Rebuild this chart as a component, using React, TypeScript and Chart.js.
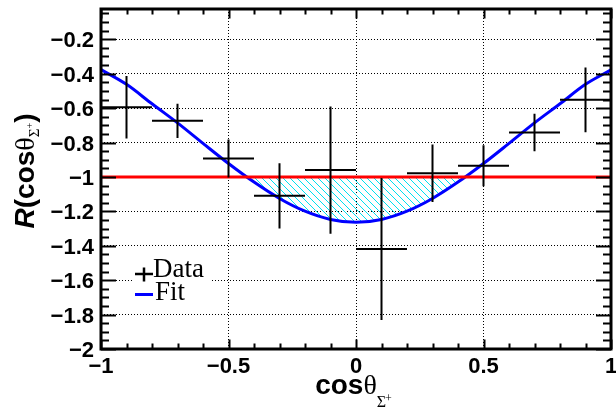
import React, { useEffect, useRef } from 'react';
import { Chart, registerables } from 'chart.js';

Chart.register(...registerables);

// ---- data ----
const binCenters = [-0.9, -0.7, -0.5, -0.3, -0.1, 0.1, 0.3, 0.5, 0.7, 0.9];
const binHalfWidths = [0.1, 0.1, 0.1, 0.1, 0.1, 0.1, 0.1, 0.1, 0.1, 0.1];
const rValues = [-0.595, -0.674, -0.893, -1.11, -0.96, -1.419, -0.978, -0.935, -0.742, -0.552];
const rErrors = [0.181, 0.099, 0.111, 0.189, 0.37, 0.413, 0.167, 0.119, 0.109, 0.188];

const fitX = [-1, -0.9, -0.8, -0.7, -0.6, -0.5, -0.4, -0.3, -0.2, -0.1, 0, 0.1, 0.2, 0.3, 0.4, 0.5, 0.6, 0.7, 0.8, 0.9, 1];
const fitY = [-0.376, -0.462, -0.575, -0.686, -0.805, -0.922, -1.03, -1.125, -1.199, -1.247, -1.264, -1.247, -1.199, -1.125, -1.03, -0.922, -0.805, -0.686, -0.575, -0.462, -0.378];

const refLineX = [-1, 1];
const refLineY = [-1, -1];

const xRange = [-1, 1];
const yRange = [-2, -0.024];
const xMajorTicks = [-1, -0.5, 0, 0.5, 1];
const yMajorTicks = [-2, -1.8, -1.6, -1.4, -1.2, -1, -0.8, -0.6, -0.4, -0.2];
const xMinorStep = 0.1;
const yMinorStep = 0.05;
const legendLabels = ['Data', 'Fit'];

const SANS = '"Liberation Sans", Arial, Helvetica, sans-serif';
const SERIF = '"Liberation Serif", "Times New Roman", serif';

function fmt(v: number): string {
  if (Math.abs(v) < 1e-9) return '0';
  const s = String(Math.round(Math.abs(v) * 1000) / 1000);
  return (v < 0 ? '\u2212' : '') + s;
}

function minorValues(min: number, max: number, step: number): number[] {
  const out: number[] = [];
  const start = Math.ceil(min / step - 1e-9);
  for (let i = start; i * step <= max + 1e-9; i++) out.push(i * step);
  return out;
}

const decorPlugin = {
  id: 'rootDecor',
  beforeDatasetsDraw(chart: any) {
    const ctx = chart.ctx;
    ctx.save();
    ctx.fillStyle = '#ffffff';
    ctx.fillRect(133, 257, 77, 53);
    ctx.restore();
  },
  afterDatasetsDraw(chart: any) {
    const ctx = chart.ctx;
    const { left, right, top, bottom } = chart.chartArea;
    const xs = chart.scales.x;
    const ys = chart.scales.y;
    ctx.save();
    // ticks
    ctx.strokeStyle = '#000';
    ctx.lineWidth = 2;
    ctx.beginPath();
    const yMinor = minorValues(yRange[0], yRange[1], yMinorStep);
    yMinor.forEach((v) => {
      const isMajor = yMajorTicks.some((m) => Math.abs(m - v) < 1e-6);
      const len = isMajor ? 15 : 8;
      const py = Math.round(ys.getPixelForValue(v)) + 0.5;
      ctx.moveTo(left, py); ctx.lineTo(left + len, py);
      ctx.moveTo(right, py); ctx.lineTo(right - len, py);
    });
    const xMinor = minorValues(xRange[0], xRange[1], xMinorStep);
    xMinor.forEach((v) => {
      const isMajor = xMajorTicks.some((m) => Math.abs(m - v) < 1e-6);
      const len = isMajor ? 9.5 : 5.5;
      const px = Math.round(xs.getPixelForValue(v)) + 0.5;
      ctx.moveTo(px, bottom); ctx.lineTo(px, bottom - len);
      ctx.moveTo(px, top); ctx.lineTo(px, top + len);
    });
    ctx.stroke();
    // frame
    ctx.lineWidth = 3;
    ctx.strokeRect(left, top, right - left, bottom - top);

    // tick labels
    ctx.fillStyle = '#000';
    ctx.font = `bold 22px ${SANS}`;
    ctx.textAlign = 'right';
    ctx.textBaseline = 'alphabetic';
    yMajorTicks.forEach((v) => {
      const py = ys.getPixelForValue(v);
      ctx.fillText(fmt(v), left - 7, py + 8);
    });
    ctx.textAlign = 'center';
    xMajorTicks.forEach((v) => {
      const px = xs.getPixelForValue(v);
      ctx.fillText(fmt(v), px, bottom + 24);
    });

    // x title: cosθ_{Σ+}
    {
      ctx.textAlign = 'left';
      ctx.font = `bold 28px ${SANS}`;
      const w1 = ctx.measureText('cos').width;
      ctx.font = `28px ${SERIF}`;
      const w2 = ctx.measureText('\u03B8').width;
      ctx.font = `16px ${SERIF}`;
      const w3 = ctx.measureText('\u03A3').width;
      ctx.font = `12px ${SERIF}`;
      const w4 = ctx.measureText('+').width;
      const total = w1 + w2 + w3 + w4;
      let x = 354 - total / 2;
      const by = 394;
      ctx.font = `bold 28px ${SANS}`;
      ctx.fillText('cos', x, by); x += w1;
      ctx.font = `28px ${SERIF}`;
      ctx.fillText('\u03B8', x, by); x += w2;
      ctx.font = `16px ${SERIF}`;
      ctx.fillText('\u03A3', x, by + 13); x += w3;
      ctx.font = `12px ${SERIF}`;
      ctx.fillText('+', x - 1, by + 8);
    }
    // y title: R(cosθ_{Σ+})
    {
      ctx.save();
      ctx.translate(34, 171);
      ctx.rotate(-Math.PI / 2);
      ctx.textAlign = 'left';
      ctx.font = `italic bold 28px ${SANS}`;
      const wR = ctx.measureText('R').width;
      ctx.font = `bold 28px ${SANS}`;
      const wP = ctx.measureText('(').width;
      const wC = ctx.measureText('cos').width;
      const wQ = ctx.measureText(')').width;
      ctx.font = `28px ${SERIF}`;
      const wT = ctx.measureText('\u03B8').width;
      ctx.font = `15px ${SERIF}`;
      const wS = ctx.measureText('\u03A3').width;
      ctx.font = `10px ${SERIF}`;
      const wPl = ctx.measureText('+').width;
      const total = wR + wP + wC + wT + wS + wPl + wQ;
      let x = -total / 2;
      ctx.font = `italic bold 28px ${SANS}`;
      ctx.fillText('R', x, 0); x += wR;
      ctx.font = `bold 28px ${SANS}`;
      ctx.fillText('(', x, 0); x += wP;
      ctx.fillText('cos', x, 0); x += wC;
      ctx.font = `28px ${SERIF}`;
      ctx.fillText('\u03B8', x, 0); x += wT;
      ctx.font = `15px ${SERIF}`;
      ctx.fillText('\u03A3', x, 5); x += wS;
      ctx.font = `10px ${SERIF}`;
      ctx.fillText('+', x, -1); x += wPl;
      ctx.font = `bold 28px ${SANS}`;
      ctx.fillText(')', x, 0);
      ctx.restore();
    }

    // legend
    ctx.strokeStyle = '#000';
    ctx.lineWidth = 2.5;
    ctx.beginPath();
    ctx.moveTo(135, 274); ctx.lineTo(153, 274);
    ctx.moveTo(144, 267.5); ctx.lineTo(144, 281.5);
    ctx.stroke();
    ctx.strokeStyle = '#0000ff';
    ctx.lineWidth = 3;
    ctx.beginPath();
    ctx.moveTo(135, 294.5); ctx.lineTo(153, 294.5);
    ctx.stroke();
    ctx.fillStyle = '#000';
    ctx.font = `27px ${SERIF}`;
    ctx.textAlign = 'left';
    ctx.fillText(legendLabels[0], 153, 277);
    ctx.fillText(legendLabels[1], 155, 300);
    ctx.restore();
  },
};

export default function App() {
  const ref = useRef<HTMLCanvasElement>(null);
  useEffect(() => {
    const canvas = ref.current;
    if (!canvas) return;
    const ctx = canvas.getContext('2d')!;

    // hatch pattern
    const pc = document.createElement('canvas');
    pc.width = 7; pc.height = 7;
    const p = pc.getContext('2d')!;
    p.strokeStyle = '#00e0f0';
    p.lineWidth = 1;
    p.beginPath();
    p.moveTo(-1, -1); p.lineTo(8, 8);
    p.moveTo(-1, 6); p.lineTo(1, 8);
    p.moveTo(6, -1); p.lineTo(8, 1);
    p.stroke();
    const pattern = ctx.createPattern(pc, 'repeat');

    const errData: { x: number; y: number | null }[] = [];
    binCenters.forEach((x, i) => {
      const y = rValues[i];
      const ex = binHalfWidths[i];
      const ey = rErrors[i];
      errData.push({ x: x - ex, y }, { x: x + ex, y }, { x, y: null });
      errData.push({ x, y: y + ey }, { x, y: y - ey }, { x, y: null });
    });

    const chart = new Chart(ctx, {
      type: 'line',
      data: {
        datasets: [
          {
            label: 'Data',
            data: errData as any,
            borderColor: '#000000',
            borderWidth: 2,
            pointRadius: 0,
            spanGaps: false,
            fill: false,
            order: 0,
          },
          {
            label: 'ref',
            data: refLineX.map((x, i) => ({ x, y: refLineY[i] })),
            borderColor: '#ff0000',
            borderWidth: 3,
            pointRadius: 0,
            fill: false,
            order: 1,
          },
          {
            label: 'Fit',
            data: fitX.map((x, i) => ({ x, y: fitY[i] })),
            borderColor: '#0000ff',
            borderWidth: 3,
            pointRadius: 0,
            cubicInterpolationMode: 'monotone',
            fill: { target: { value: -1 }, above: 'rgba(0,0,0,0)', below: pattern as any },
            order: 2,
          },
        ],
      },
      options: {
        animation: false,
        responsive: false,
        devicePixelRatio: 1,
        events: [],
        layout: { padding: { top: 9, right: 5, left: 0, bottom: 0 } },
        plugins: { legend: { display: false }, tooltip: { enabled: false }, title: { display: false } },
        scales: {
          x: {
            type: 'linear',
            min: xRange[0],
            max: xRange[1],
            afterBuildTicks: (s: any) => { s.ticks = xMajorTicks.map((v) => ({ value: v })); },
            afterFit: (s: any) => { s.height = 62; },
            ticks: { display: false },
            grid: { color: '#000', lineWidth: 1, drawTicks: false },
            border: { display: false, dash: [1, 2] },
          },
          y: {
            type: 'linear',
            min: yRange[0],
            max: yRange[1],
            afterBuildTicks: (s: any) => { s.ticks = yMajorTicks.map((v) => ({ value: v })); },
            afterFit: (s: any) => { s.width = 101; },
            ticks: { display: false },
            grid: { color: '#000', lineWidth: 1, drawTicks: false },
            border: { display: false, dash: [1, 2] },
          },
        },
      },
      plugins: [decorPlugin],
    } as any);
    return () => chart.destroy();
  }, []);

  return (
    <div style={{ position: 'fixed', left: 0, top: 0, width: 616, height: 411, background: '#fff' }}>
      <canvas ref={ref} width={616} height={411} style={{ display: 'block' }} />
    </div>
  );
}
